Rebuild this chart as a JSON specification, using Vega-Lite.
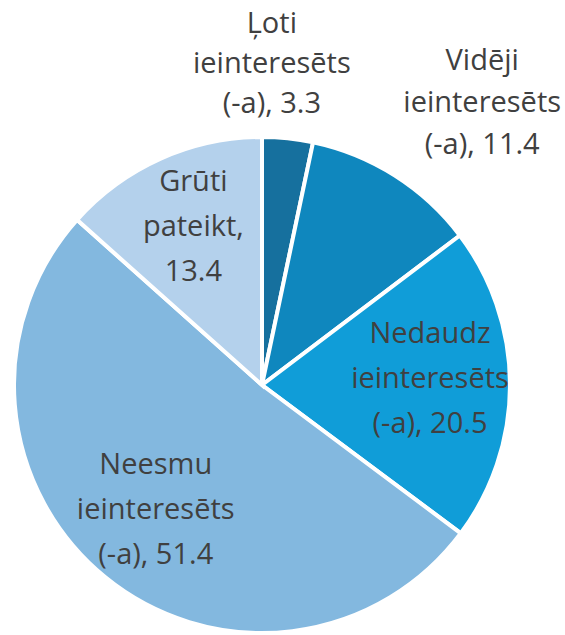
{
  "$schema": "https://vega.github.io/schema/vega-lite/v6.json",
  "width": 496,
  "height": 496,
  "autosize": "none",
  "padding": {"left": 14, "top": 137, "right": 55, "bottom": 2},
  "background": "white",
  "view": {"stroke": null},
  "data": {
    "values": [
      {"cat": "Ļoti ieinteresēts (-a)", "value": 3.3, "rank": 1, "label": ["Ļoti", "ieinteresēts", "(-a), 3.3"]},
      {"cat": "Vidēji ieinteresēts (-a)", "value": 11.4, "rank": 2, "label": ["Vidēji", "ieinteresēts", "(-a), 11.4"]},
      {"cat": "Nedaudz ieinteresēts (-a)", "value": 20.5, "rank": 3, "label": ["Nedaudz", "ieinteresēts", "(-a), 20.5"]},
      {"cat": "Neesmu ieinteresēts (-a)", "value": 51.4, "rank": 4, "label": ["Neesmu", "ieinteresēts", "(-a), 51.4"]},
      {"cat": "Grūti pateikt", "value": 13.4, "rank": 5, "label": ["Grūti", "pateikt,", "13.4"]}
    ]
  },
  "encoding": {
    "theta": {"field": "value", "type": "quantitative", "stack": true},
    "order": {"field": "rank", "type": "quantitative"}
  },
  "layer": [
    {
      "mark": {"type": "arc", "stroke": "white", "strokeWidth": 4},
      "encoding": {
        "color": {
          "field": "cat",
          "type": "nominal",
          "legend": null,
          "scale": {
            "domain": ["Ļoti ieinteresēts (-a)", "Vidēji ieinteresēts (-a)", "Nedaudz ieinteresēts (-a)", "Neesmu ieinteresēts (-a)", "Grūti pateikt"],
            "range": ["#16709e", "#0f87be", "#109dd8", "#83b8df", "#b4d1ec"]
          }
        }
      }
    },
    {
      "mark": {"type": "text", "radius": 168, "dy": -50, "font": "Open Sans", "fontSize": 29, "lineHeight": 45, "color": "#404040", "align": "center", "baseline": "middle"},
      "encoding": {
        "text": {"field": "label"},
        "opacity": {"condition": {"test": "datum.value > 12", "value": 1}, "value": 0}
      }
    },
    {
      "mark": {"type": "text", "radius": 327, "dx": -24, "dy": -36, "font": "Open Sans", "fontSize": 29, "lineHeight": 40, "color": "#404040", "align": "center", "baseline": "middle"},
      "encoding": {
        "text": {"field": "label"},
        "opacity": {"condition": {"test": "datum.value < 5", "value": 1}, "value": 0}
      }
    },
    {
      "mark": {"type": "text", "radius": 340, "dx": 38, "dy": -37, "font": "Open Sans", "fontSize": 29, "lineHeight": 42, "color": "#404040", "align": "center", "baseline": "middle"},
      "encoding": {
        "text": {"field": "label"},
        "opacity": {"condition": {"test": "datum.value > 5 && datum.value < 12", "value": 1}, "value": 0}
      }
    }
  ]
}
